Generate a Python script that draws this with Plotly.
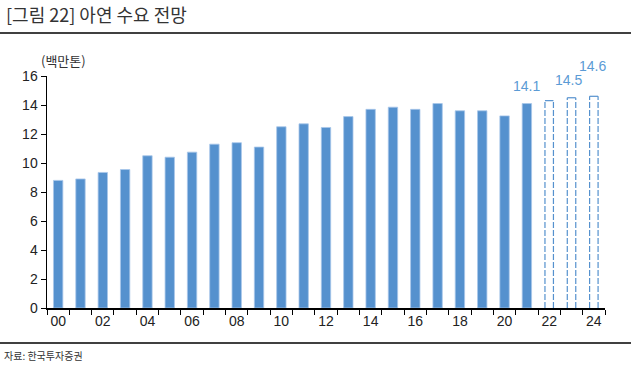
import plotly.graph_objects as go

years = list(range(2000, 2025))
actual_years = list(range(2000, 2022))
actual_vals = [8.8, 8.9, 9.35, 9.55, 10.5, 10.4, 10.75, 11.3, 11.4, 11.1,
               12.5, 12.7, 12.45, 13.2, 13.7, 13.85, 13.7, 14.1, 13.6, 13.6,
               13.25, 14.1]
fc_years = [2022, 2023, 2024]
fc_vals = [14.3, 14.5, 14.6]
label_years = [2021, 2023, 2024]
label_vals = [14.1, 14.5, 14.6]
tick_years = list(range(2000, 2025, 2))
tick_text = [f"{y % 100:02d}" for y in tick_years]
y_ticks = list(range(0, 17, 2))

BLUE = "#5591CE"
fig = go.Figure()
fig.add_trace(go.Bar(x=actual_years, y=actual_vals, width=0.42,
                     marker=dict(color=BLUE, line=dict(color="#a8c6ea", width=0.8)),
                     hoverinfo="skip"))

hw = 0.19
sx, sy, tx, ty = [], [], [], []
for yr, v in zip(fc_years, fc_vals):
    sx += [yr - hw, yr - hw, None, yr + hw, yr + hw, None]
    sy += [0, v, None, 0, v, None]
    tx += [yr - hw, yr + hw, None]
    ty += [v, v, None]
fig.add_trace(go.Scatter(x=sx, y=sy, mode="lines",
                         line=dict(color=BLUE, width=1.2, dash="6px,2px"), hoverinfo="skip"))
fig.add_trace(go.Scatter(x=tx, y=ty, mode="lines",
                         line=dict(color=BLUE, width=1.2), hoverinfo="skip"))

shifts = [(0, 8), (-3, 8), (-1, 20)]
for (yr, v), (dx, dy) in zip(zip(label_years, label_vals), shifts):
    fig.add_annotation(x=yr, y=v, text=f"{v:.1f}", showarrow=False, yanchor="bottom",
                       xshift=dx, yshift=dy,
                       font=dict(family="Liberation Sans, Arial", size=14, color="#5B9BD5"))

fig.add_annotation(xref="paper", yref="paper", x=-8/558, y=1.0 + 16/232, xanchor="left",
                   yanchor="middle", text="(백만톤)", showarrow=False,
                   font=dict(family="Noto Sans CJK KR", size=13, color="#333333"))
fig.add_annotation(xref="paper", yref="paper", x=-43/558, y=1.0 + 62/232, xanchor="left",
                   yanchor="middle", text="[그림 22] 아연 수요 전망", showarrow=False,
                   font=dict(family="Noto Sans CJK KR", size=18, color="#333333"))
fig.add_annotation(xref="paper", yref="paper", x=-45/558, y=-47/232, xanchor="left",
                   yanchor="middle", text="자료: 한국투자증권", showarrow=False,
                   font=dict(family="Noto Sans CJK KR", size=10, color="#333333"))
fig.add_shape(type="line", xref="paper", yref="paper", x0=-47/558, x1=584/558,
              y0=1.0 + 43/232, y1=1.0 + 43/232, line=dict(color="black", width=1.5))
fig.add_shape(type="line", xref="paper", yref="paper", x0=-47/558, x1=584/558,
              y0=-35/232, y1=-35/232, line=dict(color="black", width=1.5))

fig.update_layout(
    width=631, height=372, margin=dict(l=47, r=26, t=76, b=64),
    paper_bgcolor="white", plot_bgcolor="white", showlegend=False,
    font=dict(family="Liberation Sans, Arial", size=13, color="#222222"),
    xaxis=dict(range=[1999.5, 2024.5], tickvals=tick_years, ticktext=tick_text,
               ticks="", showline=True, linecolor="black", linewidth=1.5,
               showgrid=False, zeroline=False, fixedrange=True,
               tickfont=dict(size=14),
               minor=dict(tickvals=[y + 0.5 for y in range(1999, 2025)], ticks="outside",
                          ticklen=5, tickcolor="black", tickwidth=1, showgrid=False)),
    yaxis=dict(range=[0, 16], tickvals=y_ticks, ticks="outside", ticklen=5,
               tickcolor="black", showline=True, linecolor="black", linewidth=1.5,
               showgrid=False, zeroline=False, fixedrange=True, tickfont=dict(size=14)),
)
fig.write_html("out.html", config={"displayModeBar": False, "staticPlot": True},
               post_script="document.body.style.margin='0';")
